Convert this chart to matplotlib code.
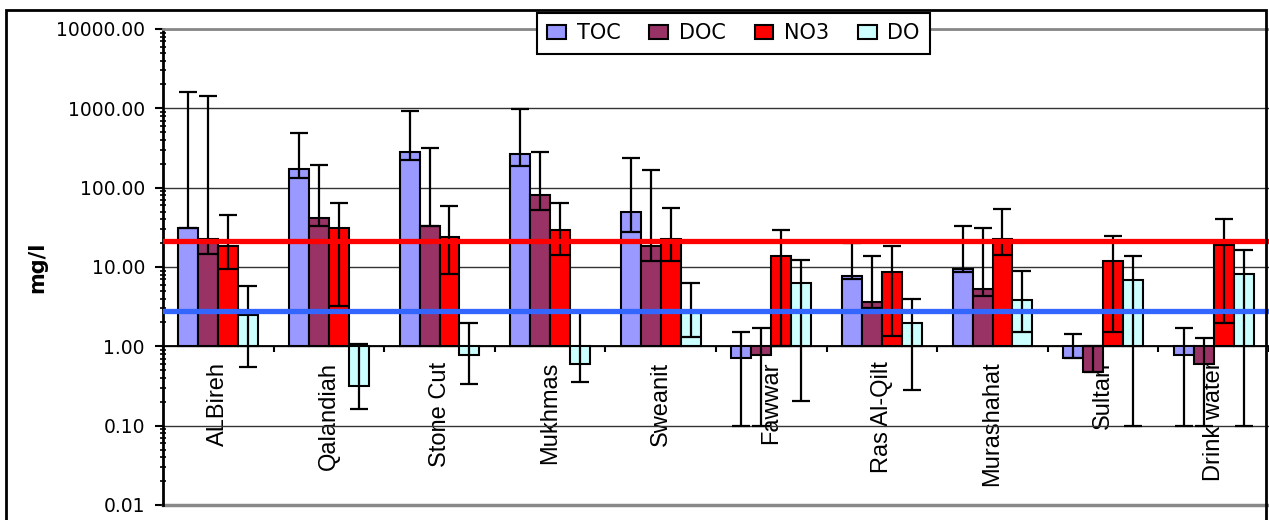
import numpy as np
import matplotlib
matplotlib.use("Agg")
import matplotlib.pyplot as plt
from matplotlib.patches import Rectangle
from matplotlib.ticker import FixedLocator, FuncFormatter, LogLocator, NullFormatter

# sampling sites along the x axis
sites = ['ALBireh', 'Qalandiah', 'Stone Cut', 'Mukhmas', 'Sweanit',
         'Fawwar', 'Ras Al-Qilt', 'Murashahat', 'Sultan', 'Drink water']

# mean values (mg/l) with the low / high ends of the error bars
toc = [31, 174, 284, 268, 50, 0.71, 7.6, 9.4, 0.71, 0.78]
toc_lo = [31, 134, 223, 186, 28, 0.10, 7.1, 8.7, 0.71, 0.10]
toc_hi = [1590, 490, 925, 980, 239, 1.50, 20, 33, 1.43, 1.69]

doc = [22.5, 41, 33, 82, 18.2, 0.78, 3.6, 5.3, 0.48, 0.60]
doc_lo = [14.7, 32.6, 33, 53, 11.8, 0.10, 3.0, 4.35, 0.48, 0.10]
doc_hi = [1445, 193, 313, 284, 165, 1.69, 13.9, 31, 1.0, 1.27]

no3 = [18.2, 31, 24, 29, 22.5, 13.9, 8.6, 22.5, 11.8, 19.1]
no3_lo = [9.4, 3.2, 8.2, 14, 11.8, 1.0, 1.34, 14, 1.52, 1.97]
no3_hi = [45, 65, 59, 65, 56, 29, 18.2, 54, 24.8, 40.7]

do = [2.46, 0.32, 0.785, 0.605, 2.6, 6.2, 1.97, 3.8, 6.9, 8.2]
do_lo = [0.55, 0.164, 0.335, 0.355, 1.3, 0.207, 0.284, 1.52, 0.10, 0.10]
do_hi = [5.76, 1.08, 1.95, 2.7, 6.2, 12.4, 4.0, 9.0, 13.9, 16.2]

red_level = 21.1
blue_level = 2.76

W, H = 1269, 520
fig = plt.figure(figsize=(W / 100, H / 100), dpi=100)
ax = fig.add_axes([163 / W, 1 - 505 / H, (W - 163) / W, (505 - 29) / H])

x = np.arange(len(sites))
w = 0.18
series = [
    (toc, toc_lo, toc_hi, '#9999FF', 'TOC'),
    (doc, doc_lo, doc_hi, '#993366', 'DOC'),
    (no3, no3_lo, no3_hi, '#FF0000', 'NO3'),
    (do, do_lo, do_hi, '#CCFFFF', 'DO'),
]
for k, (v, lo, hi, col, name) in enumerate(series):
    v = np.array(v, dtype=float)
    lo = np.array(lo, dtype=float)
    hi = np.array(hi, dtype=float)
    xs = x + (k - 1.5) * w
    # bars hang from 1.0 like an Excel log chart
    ax.bar(xs, v - 1, bottom=1, width=w, color=col, edgecolor='black',
           linewidth=1.5, label=name, zorder=2)
    ax.errorbar(xs, v, yerr=[v - lo, hi - v], fmt='none', ecolor='black',
                elinewidth=1.6, capsize=6.5, capthick=1.6, zorder=3)

ax.axhline(red_level, color='#FF0000', lw=3.8, zorder=4)
ax.axhline(blue_level, color='#3366FF', lw=3.8, zorder=4)

ax.set_yscale('log')
ax.set_ylim(0.01, 10000)
ax.set_xlim(-0.5, 9.5)

ax.yaxis.set_major_locator(LogLocator(base=10, numticks=10))
ax.yaxis.set_major_formatter(FuncFormatter(lambda v, p: f'{v:.2f}'))
ax.yaxis.set_minor_locator(LogLocator(base=10, subs=np.arange(2, 10), numticks=20))
ax.yaxis.set_minor_formatter(NullFormatter())
ax.tick_params(axis='y', which='major', direction='out', length=6, width=1.5,
               labelsize=13.5, pad=7)
ax.tick_params(axis='y', which='minor', direction='inout', length=5, width=1.2)
ax.yaxis.grid(True, which='major', color='#333333', lw=1.0)
ax.set_axisbelow(True)

# category axis crosses at 1.00
ax.spines['bottom'].set_position(('data', 1))
ax.spines['bottom'].set_color('black')
ax.spines['bottom'].set_linewidth(1.3)
ax.spines['left'].set_linewidth(2)
ax.spines['top'].set_color('#888888')
ax.spines['top'].set_linewidth(2)
ax.spines['right'].set_visible(False)
ax.axhline(0.01, color='#888888', lw=2.5, clip_on=False, zorder=1)

ax.set_xticks(x)
ax.set_xticklabels(sites, rotation=90, fontsize=17,
                   fontfamily=['Liberation Sans Narrow', 'Liberation Sans'])
ax.xaxis.set_minor_locator(FixedLocator(np.arange(-0.5, 10, 1)))
ax.tick_params(axis='x', which='major', length=0, pad=11)
ax.tick_params(axis='x', which='minor', direction='out', length=4, width=1.5)

fig.text(37 / W, 1 - 267 / H, 'mg/l', rotation=90, ha='center', va='center',
         fontsize=15, fontweight='bold')

fig.add_artist(Rectangle((6.5 / W, -0.05), (1265.5 - 6.5) / W, 1.05 - 10 / H,
                         transform=fig.transFigure, fill=False,
                         edgecolor='black', lw=2))

leg = fig.legend(loc='upper center', bbox_to_anchor=(733.5 / W, 1 - 13 / H),
                 ncol=4, fontsize=15, frameon=True, fancybox=False,
                 edgecolor='black', framealpha=1, handlelength=0.9,
                 handleheight=0.6, handletextpad=0.5, columnspacing=1.4,
                 borderpad=0.5, borderaxespad=0)
leg.get_frame().set_linewidth(1.5)

fig.savefig('out.png', dpi=100)
